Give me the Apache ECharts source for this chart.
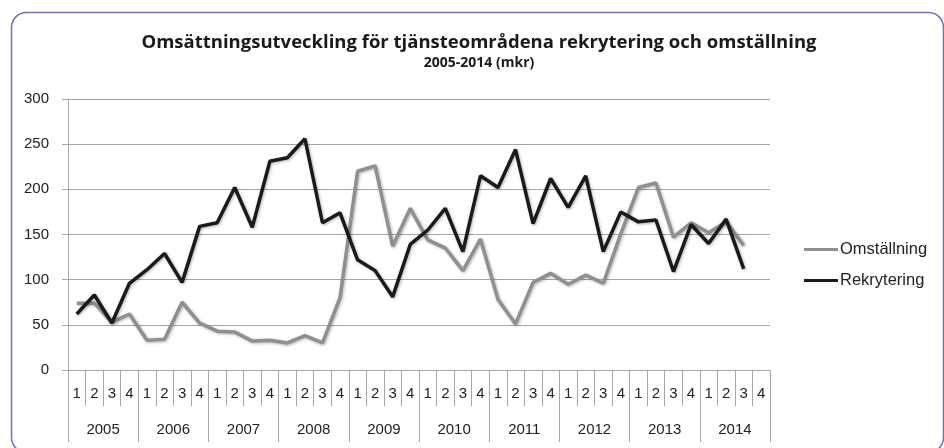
<!DOCTYPE html>
<html>
<head>
<meta charset="utf-8">
<script src="https://cdn.jsdelivr.net/npm/echarts@6/dist/echarts.min.js"></script>
<style>
  html, body { margin: 0; padding: 0; background: #fff; }
  #main { width: 944px; height: 448px; }
</style>
</head>
<body>
<div id="main"></div>
<script>
var years = ['2005','2006','2007','2008','2009','2010','2011','2012','2013','2014'];
var quarters = [];
years.forEach(function(){ quarters.push('1','2','3','4'); });

var omstallning = [74,74,53,62,33,34,75,52,43,42,
                   32,33,30,38,30,80,220,226,137,179,
                   144,135,110,145,78,51,97,107,95,105,
                   96,151,202,207,147,163,152,164,138,null];
var rekrytering = [62,83,52,96,111,129,97,159,163,202,
                   158,231,235,256,163,174,122,110,81,139,
                   155,179,131,215,202,244,162,212,180,215,
                   131,175,164,166,109,161,140,167,112,null];

var yTicks = [0,50,100,150,200,250,300];

var chart = echarts.init(document.getElementById('main'));
var font = 'Liberation Sans';

chart.setOption({
  animation: false,
  textStyle: { fontFamily: font },
  title: {
    text: 'Omsättningsutveckling för tjänsteområdena rekrytering och omställning',
    subtext: '2005-2014 (mkr)',
    left: 474, top: 28, textAlign: 'center', itemGap: 4,
    textStyle: { fontFamily: 'Open Sans', fontSize: 18.5, fontWeight: 'bold', color: '#1a1a1a' },
    subtextStyle: { fontFamily: 'Open Sans', fontSize: 14, fontWeight: 'bold', color: '#1a1a1a' }
  },
  graphic: [{
    type: 'rect', left: 9, top: 10, silent: true,
    shape: { width: 932, height: 440, r: 15 },
    style: { fill: 'none', stroke: '#8266bf', lineWidth: 1.5 }
  }],
  legend: {
    orient: 'vertical', left: 799, top: 236, itemGap: 14,
    icon: 'rect', itemWidth: 34, itemHeight: 3,
    textStyle: { fontFamily: font, fontSize: 16.5, color: '#222', padding: [0,0,0,-3] },
    data: ['Omställning', 'Rekrytering']
  },
  grid: { left: 68, right: 174, top: 99, bottom: 78 },
  xAxis: [{
    type: 'category', data: quarters, position: 'bottom',
    axisLine: { lineStyle: { color: '#a6a6a6', width: 1 } },
    axisTick: { show: true, interval: 0, length: 36, lineStyle: { color: '#a6a6a6' } },
    axisLabel: { interval: 0, margin: 16, fontSize: 15, color: '#222', fontFamily: font },
    splitLine: { show: false }
  }, {
    type: 'category', data: years, position: 'bottom',
    axisLine: { show: false },
    axisTick: { show: true, interval: 0, length: 72, lineStyle: { color: '#a6a6a6' } },
    axisLabel: { interval: 0, margin: 52, fontSize: 15, color: '#222', fontFamily: font },
    splitLine: { show: false }
  }],
  yAxis: {
    type: 'value', min: 0, max: 300, interval: 50,
    axisLine: { show: true, lineStyle: { color: '#a6a6a6' } },
    axisTick: { show: true, length: 6, lineStyle: { color: '#a6a6a6' } },
    axisLabel: { fontSize: 15, color: '#222', margin: 19, fontFamily: font,
      formatter: function (v) { return yTicks.indexOf(v) >= 0 ? String(v) : ''; } },
    splitLine: { lineStyle: { color: '#a6a6a6', width: 1 } }
  },
  series: [{
    name: 'Omställning', type: 'line', data: omstallning,
    symbol: 'none', color: '#8f8f8f',
    lineStyle: { width: 3.5, color: '#8f8f8f', shadowBlur: 3, shadowColor: 'rgba(0,0,0,0.3)', shadowOffsetX: 1, shadowOffsetY: 1 }
  }, {
    name: 'Rekrytering', type: 'line', data: rekrytering,
    symbol: 'none', color: '#1a1a1a',
    lineStyle: { width: 3.5, color: '#1a1a1a', shadowBlur: 3, shadowColor: 'rgba(0,0,0,0.3)', shadowOffsetX: 1, shadowOffsetY: 1 }
  }]
});
</script>
</body>
</html>
